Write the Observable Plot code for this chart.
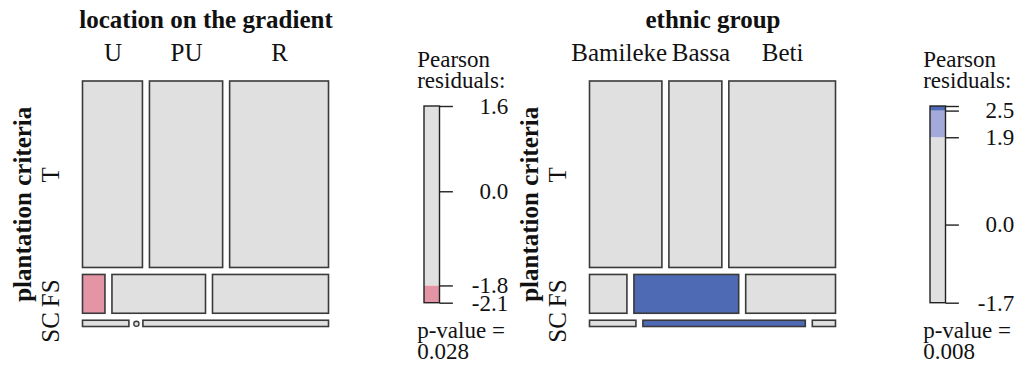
<!DOCTYPE html>
<html><head><meta charset="utf-8">
<script src="https://cdn.jsdelivr.net/npm/d3@7"></script>
<script src="https://cdn.jsdelivr.net/npm/@observablehq/plot@0.6"></script>
<style>
html,body{margin:0;padding:0;background:#fff;}
#chart{position:relative;width:1019px;height:367px;overflow:hidden;}
#chart svg{position:absolute;top:0;overflow:visible;}
</style></head><body><div id="chart"></div>
<script>
const criteriaLevels = ["T", "FS", "SC"];
const gradientLevels = ["U", "PU", "R"];
const gradientT  = [77, 94, 127];
const gradientFS = [6, 25, 31];
const gradientSC = [2, 0, 8];
const ethnicLevels = ["Bamileke", "Bassa", "Beti"];
const ethnicT  = [93, 68, 137];
const ethnicFS = [10, 28, 24];
const ethnicSC = [2, 7, 1];
// legends
const gradientLegendRange = [-2.13, 1.63];
const gradientLegendTicks = [1.63, 0, -1.8, -2.13];
const gradientLegendLabels = ["1.6", "0.0", "-1.8", "-2.1"];
const gradientCuts = [1.8, 2.4];
const gradientPValue = "0.028";
const ethnicLegendRange = [-1.7, 2.58];
const ethnicLegendTicks = [2.58, 2.48, 1.9, 0, -1.7];
const ethnicLegendLabels = ["", "2.5", "1.9", "0.0", "-1.7"];
const ethnicCuts = [1.9, 2.48];
const ethnicPValue = "0.008";

const FONT = "'Liberation Serif', 'Times New Roman', serif";
const GRAY = "#E0E0E0", PINK = "#E495A5", RED = "#C65A74", LBLUE = "#A3AAD9", DBLUE = "#4F6AB5";
const INK = "#3a3a3a";

function shade(r, cuts) {
  if (r > cuts[1]) return DBLUE;
  if (r > cuts[0]) return LBLUE;
  if (r < -cuts[1]) return RED;
  if (r < -cuts[0]) return PINK;
  return GRAY;
}

function layout(rows, cuts, gap) {
  const N = d3.sum(rows, r => d3.sum(r));
  const colTot = rows[0].map((_, j) => d3.sum(rows, r => r[j]));
  const availY = 1 - gap * (rows.length - 1);
  const cells = [];
  let y = 0;
  rows.forEach((r, i) => {
    const rt = d3.sum(r);
    const h = availY * rt / N;
    const availX = 1 - gap * (r.length - 1);
    let x = 0;
    r.forEach((c, j) => {
      const w = availX * c / rt;
      const e = rt * colTot[j] / N;
      const res = (c - e) / Math.sqrt(e);
      cells.push({row: i, col: j, count: c, x1: x, x2: x + w, y1: y, y2: y + h, fill: shade(res, cuts)});
      x += w + gap;
    });
    y += h + gap;
  });
  return cells;
}

function mosaicPlot({title, colLevels, rows, cuts, nudge}) {
  const W = 340, H = 367, fL = 82.5, fT = 81, fW = 246, fH = 245.5;
  const cells = layout(rows, cuts, 7 / 246);
  const top = cells.filter(d => d.row === 0);
  const rowNudge = [0, -1, 3.5];
  const rowInfo = criteriaLevels.map((lab, i) => {
    const c = cells.find(d => d.row === i);
    return {lab, y: (c.y1 + c.y2) / 2 + rowNudge[i] / fH};
  });
  return Plot.plot({
    width: W, height: H,
    marginLeft: fL, marginTop: fT, marginRight: W - fL - fW, marginBottom: H - fT - fH,
    x: {domain: [0, 1], axis: null},
    y: {domain: [0, 1], reverse: true, axis: null},
    style: {fontFamily: FONT, background: "transparent", overflow: "visible"},
    marks: [
      Plot.rect(cells.filter(d => d.count > 0), {x1: "x1", x2: "x2", y1: "y1", y2: "y2", fill: "fill", stroke: INK, strokeWidth: 1.6}),
      Plot.dot(cells.filter(d => d.count === 0), {x: "x1", y: d => (d.y1 + d.y2) / 2, r: 2.6, fill: GRAY, stroke: INK, strokeWidth: 1.3}),
      Plot.text([title], {text: d => d, x: 0.5, y: 0, dy: -62, fontSize: 25, fontWeight: "bold", lineAnchor: "middle", fill: "#111"}),
      Plot.text(top, {text: d => colLevels[d.col], x: d => (d.x1 + d.x2) / 2 + (nudge ? nudge[d.col] / fW : 0), y: 0, dy: -28.3, fontSize: 25, lineAnchor: "middle", fill: "#111"}),
      Plot.text(rowInfo, {text: "lab", x: 0, y: "y", dx: -32.5, rotate: -90, fontSize: 25, lineAnchor: "middle", fill: "#111"}),
      Plot.text(["plantation criteria"], {text: d => d, x: 0, y: 0.5, dx: -60.5, rotate: -90, fontSize: 25, fontWeight: "bold", lineAnchor: "middle", fill: "#111"})
    ]
  });
}

function legendPlot({range, cuts, ticks, labels, pvalue}) {
  const W = 114, H = 367, fL = 24, bw = 15.5, fT = 106, fB = 64.3;
  const [lo, hi] = range;
  const bounds = [-Infinity, -cuts[1], -cuts[0], cuts[0], cuts[1], Infinity];
  const fills = [RED, PINK, GRAY, LBLUE, DBLUE];
  const segs = [];
  for (let k = 0; k < 5; k++) {
    const a = Math.max(lo, bounds[k]), b = Math.min(hi, bounds[k + 1]);
    if (b > a) segs.push({a, b, fill: fills[k]});
  }
  return Plot.plot({
    width: W, height: H,
    marginLeft: fL, marginRight: W - fL - bw, marginTop: fT, marginBottom: fB,
    x: {domain: [0, 1], axis: null},
    y: {domain: [lo, hi], axis: null},
    style: {fontFamily: FONT, background: "transparent", overflow: "visible"},
    marks: [
      Plot.rect(segs, {x1: 0, x2: 1, y1: "a", y2: "b", fill: "fill"}),
      Plot.rect([range], {x1: 0, x2: 1, y1: d => d[0], y2: d => d[1], fill: "none", stroke: "#222", strokeWidth: 1.4}),
      Plot.ruleY(ticks, {y: d => d, x1: 1, x2: 1 + 13.4 / bw, stroke: "#222", strokeWidth: 1.4}),
      Plot.text(ticks, {y: d => d, x: 5.4, text: (d, i) => labels[i], textAnchor: "end", lineAnchor: "middle", fontSize: 23, fill: "#111"}),
      Plot.text(["Pearson"], {text: d => d, frameAnchor: "top-left", dx: -7.3, dy: -46.7, textAnchor: "start", lineAnchor: "middle", fontSize: 23, fill: "#111"}),
      Plot.text(["residuals:"], {text: d => d, frameAnchor: "top-left", dx: -7.3, dy: -26, textAnchor: "start", lineAnchor: "middle", fontSize: 23, fill: "#111"}),
      Plot.text(["p-value ="], {text: d => d, frameAnchor: "bottom-left", dx: -7.3, dy: 27.3, textAnchor: "start", lineAnchor: "middle", fontSize: 23, fill: "#111"}),
      Plot.text([pvalue], {text: d => d, frameAnchor: "bottom-left", dx: -7.3, dy: 48.3, textAnchor: "start", lineAnchor: "middle", fontSize: 23, fill: "#111"})
    ]
  });
}

const chart = document.getElementById("chart");
function place(el, left) { el.style.left = left + "px"; chart.appendChild(el); }

place(mosaicPlot({title: "location on the gradient", colLevels: gradientLevels, rows: [gradientT, gradientFS, gradientSC], cuts: gradientCuts}), 0);
place(legendPlot({range: gradientLegendRange, cuts: gradientCuts, ticks: gradientLegendTicks, labels: gradientLegendLabels, pvalue: gradientPValue}), 400);
place(mosaicPlot({title: "ethnic group", colLevels: ethnicLevels, rows: [ethnicT, ethnicFS, ethnicSC], cuts: ethnicCuts, nudge: [-7, 5, 0]}), 506.5);
place(legendPlot({range: ethnicLegendRange, cuts: ethnicCuts, ticks: ethnicLegendTicks, labels: ethnicLegendLabels, pvalue: ethnicPValue}), 905.5);
</script></body></html>
